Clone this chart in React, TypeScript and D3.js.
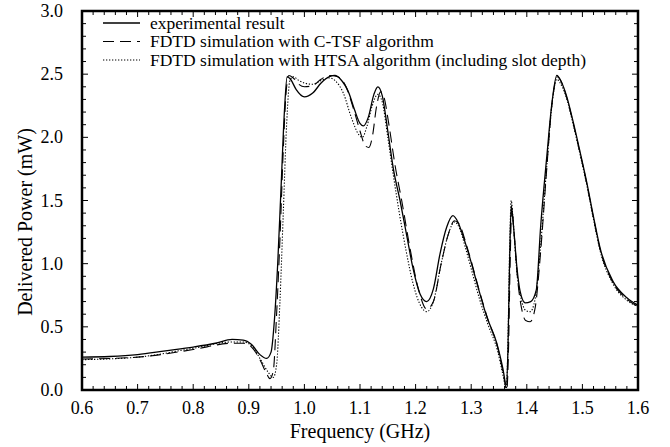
import React from "react";
import * as d3 from "d3";

const W = 670, H = 447;
const M = { left: 82, right: 638, top: 11, bottom: 390 };

const xTicks = [0.6, 0.7, 0.8, 0.9, 1.0, 1.1, 1.2, 1.3, 1.4, 1.5, 1.6];
const yTicks = [0.0, 0.5, 1.0, 1.5, 2.0, 2.5, 3.0];

const legendLabels = [
  "experimental result",
  "FDTD simulation with C-TSF algorithm",
  "FDTD simulation with HTSA algorithm (including slot depth)",
];

const expFreq = [0.6, 0.65, 0.7, 0.75, 0.8, 0.84, 0.87, 0.89, 0.905, 0.92, 0.932, 0.94, 0.946, 0.952, 0.958, 0.964, 0.969, 0.975, 0.985, 1.0, 1.015, 1.03, 1.045, 1.055, 1.065, 1.08, 1.09, 1.1, 1.106, 1.115, 1.125, 1.132, 1.14, 1.15, 1.16, 1.172, 1.185, 1.195, 1.208, 1.22, 1.232, 1.244, 1.256, 1.267, 1.276, 1.286, 1.298, 1.31, 1.328, 1.346, 1.357, 1.363, 1.366, 1.369, 1.372, 1.376, 1.382, 1.388, 1.397, 1.407, 1.417, 1.425, 1.436, 1.446, 1.454, 1.462, 1.472, 1.483, 1.495, 1.508, 1.52, 1.532, 1.555, 1.58, 1.6];
const expPower = [0.26, 0.265, 0.28, 0.31, 0.34, 0.37, 0.4, 0.395, 0.36, 0.28, 0.25, 0.3, 0.55, 1.0, 1.6, 2.2, 2.48, 2.46, 2.38, 2.32, 2.35, 2.43, 2.48, 2.49, 2.46, 2.35, 2.22, 2.11, 2.09, 2.16, 2.34, 2.4, 2.33, 2.05, 1.75, 1.5, 1.2, 0.97, 0.76, 0.7, 0.8, 1.08, 1.29, 1.38, 1.33, 1.21, 1.04, 0.85, 0.58, 0.37, 0.17, 0.04, 0.3, 1.0, 1.46, 1.3, 0.98, 0.78, 0.69, 0.7, 0.79, 1.3, 1.85, 2.3, 2.49, 2.44, 2.32, 2.13, 1.9, 1.64, 1.37, 1.12, 0.86, 0.73, 0.67];

const ctsfFreq = [0.6, 0.7, 0.8, 0.87, 0.89, 0.905, 0.92, 0.932, 0.938, 0.944, 0.95, 0.956, 0.962, 0.967, 0.972, 0.98, 0.99, 1.0, 1.015, 1.03, 1.045, 1.06, 1.075, 1.09, 1.1, 1.11, 1.116, 1.122, 1.13, 1.137, 1.143, 1.152, 1.163, 1.175, 1.19, 1.205, 1.22, 1.232, 1.246, 1.258, 1.27, 1.28, 1.29, 1.3, 1.315, 1.33, 1.348, 1.358, 1.364, 1.367, 1.37, 1.373, 1.377, 1.383, 1.39, 1.398, 1.406, 1.415, 1.425, 1.435, 1.445, 1.455, 1.462, 1.472, 1.483, 1.495, 1.508, 1.52, 1.532, 1.555, 1.58, 1.6];
const ctsfPower = [0.245, 0.26, 0.32, 0.37, 0.37, 0.34, 0.24, 0.13, 0.09, 0.15, 0.6, 1.19, 1.9, 2.35, 2.49, 2.47, 2.42, 2.4, 2.41, 2.46, 2.49, 2.48, 2.4, 2.2, 2.05, 1.93, 1.92, 2.0, 2.25, 2.36, 2.32, 2.1, 1.78, 1.5, 1.12, 0.8, 0.64, 0.7, 1.0, 1.22, 1.34, 1.3, 1.17, 1.02, 0.78, 0.56, 0.33, 0.12, 0.0, 0.3, 1.0, 1.44, 1.25, 0.9, 0.66, 0.55, 0.54, 0.65, 1.1, 1.7, 2.25, 2.48, 2.44, 2.31, 2.12, 1.89, 1.63, 1.36, 1.11, 0.85, 0.72, 0.66];

const htsaFreq = [0.6, 0.7, 0.8, 0.87, 0.89, 0.905, 0.92, 0.935, 0.944, 0.95, 0.956, 0.962, 0.968, 0.974, 0.98, 0.99, 1.0, 1.015, 1.03, 1.045, 1.055, 1.07, 1.085, 1.098, 1.104, 1.112, 1.122, 1.132, 1.14, 1.15, 1.16, 1.17, 1.183, 1.195, 1.21, 1.22, 1.232, 1.246, 1.26, 1.27, 1.28, 1.29, 1.3, 1.315, 1.33, 1.348, 1.358, 1.363, 1.366, 1.369, 1.372, 1.376, 1.383, 1.39, 1.398, 1.406, 1.415, 1.425, 1.435, 1.445, 1.454, 1.46, 1.47, 1.483, 1.495, 1.508, 1.52, 1.532, 1.555, 1.58, 1.6];
const htsaPower = [0.24, 0.26, 0.33, 0.38, 0.38, 0.35, 0.25, 0.14, 0.1, 0.2, 0.7, 1.4, 2.1, 2.45, 2.48, 2.45, 2.43, 2.42, 2.45, 2.47, 2.45, 2.35, 2.15, 2.02, 2.0, 2.08, 2.25, 2.34, 2.28, 2.0, 1.7, 1.42, 1.1, 0.85, 0.66, 0.62, 0.7, 1.0, 1.25, 1.33, 1.27, 1.12, 0.96, 0.72, 0.52, 0.3, 0.1, 0.0, 0.35, 1.1, 1.5, 1.3, 0.9, 0.72, 0.63, 0.62, 0.72, 1.15, 1.72, 2.25, 2.46, 2.43, 2.33, 2.11, 1.88, 1.62, 1.35, 1.1, 0.84, 0.71, 0.66];

const FONT = "Liberation Serif, DejaVu Serif, serif";

export default function App() {
  const x = d3.scaleLinear().domain([0.6, 1.6]).range([M.left, M.right]);
  const y = d3.scaleLinear().domain([0, 3]).range([M.bottom, M.top]);
  const line = d3
    .line<[number, number]>()
    .x((d) => x(d[0]))
    .y((d) => y(d[1]))
    .curve(d3.curveMonotoneX);

  const series = [
    { f: expFreq, p: expPower, dash: "none", w: 1.3 },
    { f: ctsfFreq, p: ctsfPower, dash: "11,6", w: 1.1 },
    { f: htsaFreq, p: htsaPower, dash: "1.3,1.7", w: 1.1 },
  ];

  const xMinor = d3.range(0.6, 1.6001, 0.02);
  const yMinor = d3.range(0, 3.0001, 0.1);

  return (
    <svg width={W} height={H} style={{ position: "absolute", left: 0, top: 0, background: "#fff", fontFamily: FONT }}>
      <rect x={0} y={0} width={W} height={H} fill="#fff" />
      <defs>
        <clipPath id="clip">
          <rect x={M.left} y={M.top} width={M.right - M.left} height={M.bottom - M.top} />
        </clipPath>
      </defs>
      {xMinor.map((v, i) => {
        const major = i % 5 === 0;
        const len = major ? 6 : 4;
        return (
          <g key={"xt" + i} stroke="#000" strokeWidth={1}>
            <line x1={x(v)} x2={x(v)} y1={M.bottom} y2={M.bottom - len} />
            <line x1={x(v)} x2={x(v)} y1={M.top} y2={M.top + len} />
          </g>
        );
      })}
      {yMinor.map((v, i) => {
        const major = i % 5 === 0;
        const len = major ? 6 : 4;
        return (
          <g key={"yt" + i} stroke="#000" strokeWidth={1}>
            <line x1={M.left} x2={M.left + len} y1={y(v)} y2={y(v)} />
            <line x1={M.right} x2={M.right - len} y1={y(v)} y2={y(v)} />
          </g>
        );
      })}
      <g clipPath="url(#clip)">
        {series.map((s, i) => (
          <path
            key={i}
            d={line(s.f.map((f, j) => [f, s.p[j]] as [number, number])) || ""}
            fill="none"
            stroke="#000"
            strokeWidth={s.w}
            strokeDasharray={s.dash}
          />
        ))}
      </g>
      <rect x={M.left} y={M.top} width={M.right - M.left} height={M.bottom - M.top} fill="none" stroke="#000" strokeWidth={2.5} />
      {xTicks.map((v) => (
        <text key={"xl" + v} x={x(v)} y={414} textAnchor="middle" fontFamily={FONT} fontSize={18}>
          {v.toFixed(1)}
        </text>
      ))}
      {yTicks.map((v) => (
        <text key={"yl" + v} x={63} y={y(v) + 6} textAnchor="end" fontFamily={FONT} fontSize={18}>
          {v.toFixed(1)}
        </text>
      ))}
      <text x={360} y={438} textAnchor="middle" fontFamily={FONT} fontSize={20}>
        Frequency (GHz)
      </text>
      <text transform={`translate(32,${222}) rotate(-90)`} textAnchor="middle" fontFamily={FONT} fontSize={20}>
        Delivered Power (mW)
      </text>
      {legendLabels.map((lab, i) => {
        const ly = 23 + i * 18.5;
        return (
          <g key={"lg" + i}>
            <line x1={103} x2={140} y1={ly} y2={ly} stroke="#000" strokeWidth={series[i].w} strokeDasharray={series[i].dash} />
            <text x={150} y={ly + 5.5} fontFamily={FONT} fontSize={17.5}>
              {lab}
            </text>
          </g>
        );
      })}
    </svg>
  );
}
